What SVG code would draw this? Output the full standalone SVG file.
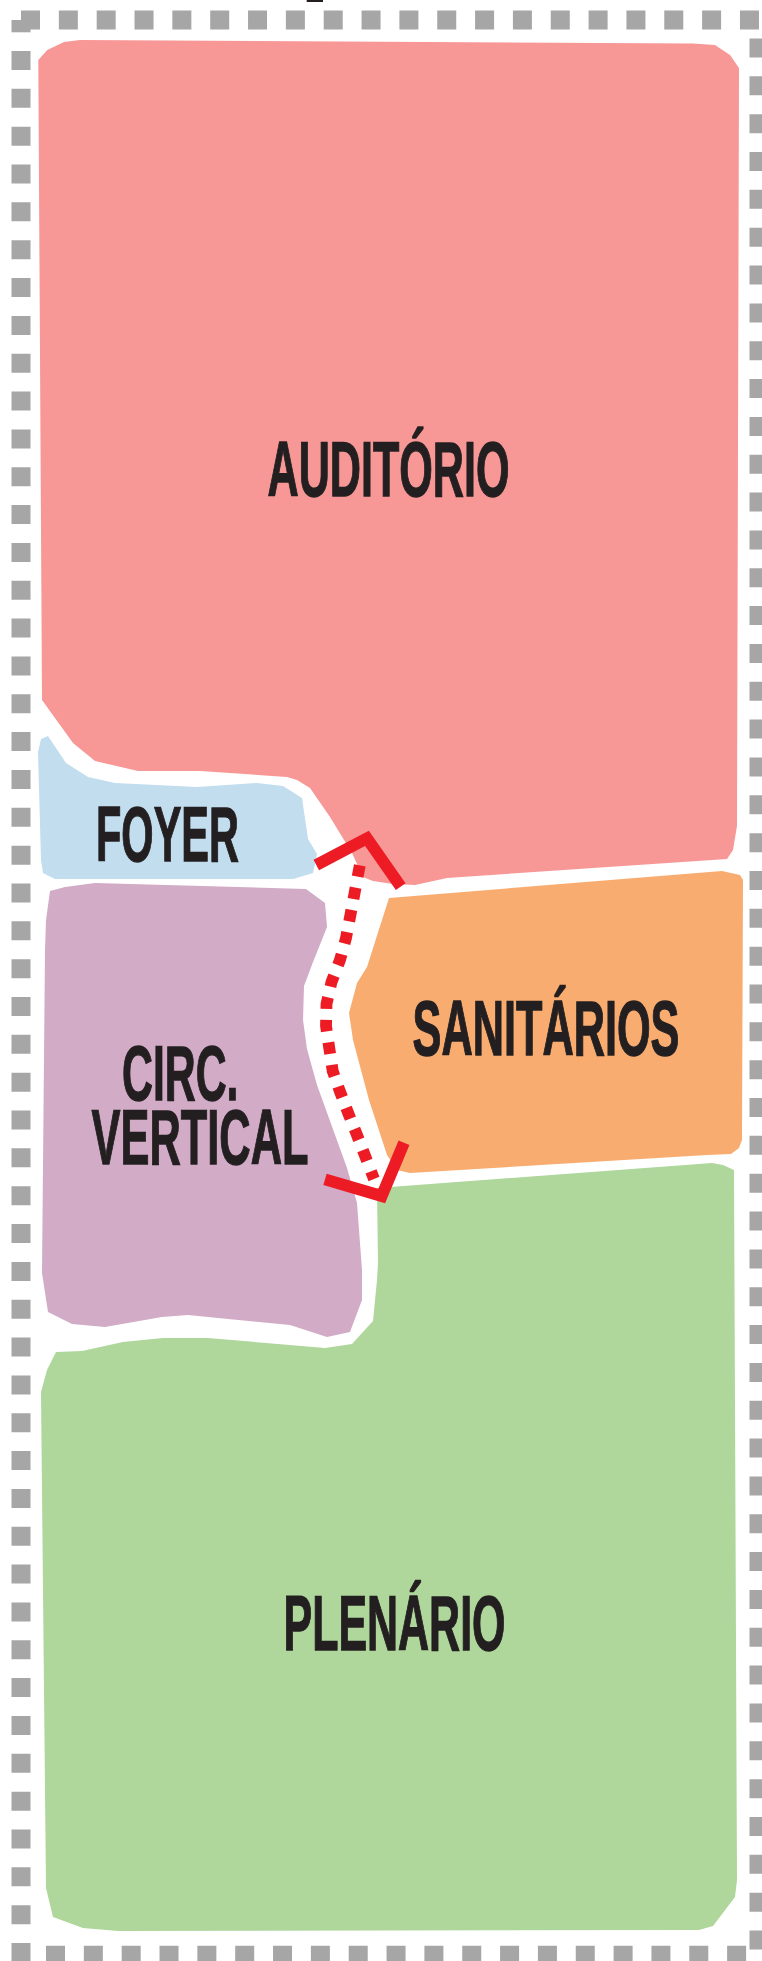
<svg xmlns="http://www.w3.org/2000/svg" width="762" height="1961" viewBox="0 0 762 1961">
<style>
.border{fill:none;stroke:#a6a6a6;stroke-width:19;stroke-dasharray:19 18.84}
.label{font-family:"Liberation Sans Narrow","Liberation Sans",sans-serif;font-weight:700;font-size:77.5px;fill:#231f20;stroke:#231f20;stroke-width:1.3;stroke-linejoin:miter}
.wall{fill:none;stroke:#ed1c24;stroke-width:11.8;stroke-linejoin:miter;stroke-miterlimit:10}
.path{fill:none;stroke:#ed1c24;stroke-width:11.8;stroke-dasharray:11.6 11.1}
</style>
<rect width="762" height="1961" fill="#ffffff"/>
<g id="border">
<path class="border" d="M21 20H760"/>
<path class="border" d="M21 51V1965"/>
<path class="border" d="M759 38.5V1950"/>
<path class="border" d="M46 1955.2H747"/>
<rect x="11.5" y="20" width="19" height="12.3" fill="#a6a6a6"/>
<rect x="306.7" y="0" width="16.3" height="2" fill="#231f20"/>
</g>
<g id="auditorio">
<polygon fill="#f79796" points="38.3,60 47.3,50 64,42 80,40 693,43.5 715,45 730,55 739,68 737,826 733,850 727,859 447,878 415,885 393,884 373,881 363,877 352,853 330,817 310,788 297,780 287,777 200,771 138,771 95,761 73,743 42,700"/>
<text class="label" x="267.5" y="495.5" textLength="242" lengthAdjust="spacingAndGlyphs">AUDITÓRIO</text>
</g>
<g id="foyer">
<polygon fill="#c1ddee" points="41,739 48,736 66,763 88,777 115,783 197,787 257,783 283,786 302,798 308,839 317,854 313,873 293,879 55,879 43,873 41,860 38,752"/>
<text class="label" x="96" y="861" textLength="143" lengthAdjust="spacingAndGlyphs">FOYER</text>
</g>
<g id="circ-vertical">
<polygon fill="#d2abc6" points="45,950 46,920 50,891 65,887 95,883 306,889 325,903 327,927 313,962 304,986 303,1020 307,1049 317,1085 347,1168 357,1203 362,1270 362,1300 350,1332 327,1337 290,1325 188,1315 162,1317 105,1327 72,1324 48,1312 42,1273"/>
<text class="label" x="122" y="1100.2" textLength="116.5" lengthAdjust="spacingAndGlyphs">CIRC.</text>
<text class="label" x="91.5" y="1163.8" textLength="217" lengthAdjust="spacingAndGlyphs">VERTICAL</text>
</g>
<g id="sanitarios">
<polygon fill="#f8ac6f" points="389,898 722,871 740,875 743,880 742,1140 739,1148 731,1154 707,1155 410,1173 397,1170 387,1155 369,1100 353,1040 349,1013 357,983 367,967"/>
<text class="label" x="412.5" y="1055.2" textLength="267" lengthAdjust="spacingAndGlyphs">SANITÁRIOS</text>
</g>
<g id="plenario">
<polygon fill="#afd69b" points="56,1352 82,1351 123,1342 163,1338 208,1338 325,1348 352,1344 373,1321 377,1280 378,1263 377,1188 712,1163 723,1165 734,1170 737,1880 735,1897 713,1926 699,1930 118,1931 83,1928 53,1917 46,1888 41,1392 47,1370"/>
<text class="label" x="283.5" y="1650.2" textLength="222" lengthAdjust="spacingAndGlyphs">PLENÁRIO</text>
</g>
<g id="connectors">
<polyline class="path" points="359.8,865.3 358.7,871 354.5,893.5 350.3,915.7 346,938 340,960 331.5,982 326.5,1004 326,1026 329.3,1048.3 332.7,1071 340,1091.7 348.3,1113.3 356.7,1134.3 365,1155.7 372.7,1175.7 374,1179"/>
<polyline class="wall" points="316.3,865 367,838.3 400.7,886.7"/>
<polyline class="wall" points="325,1179.3 381.7,1196 404,1142.7"/>
</g>
</svg>
